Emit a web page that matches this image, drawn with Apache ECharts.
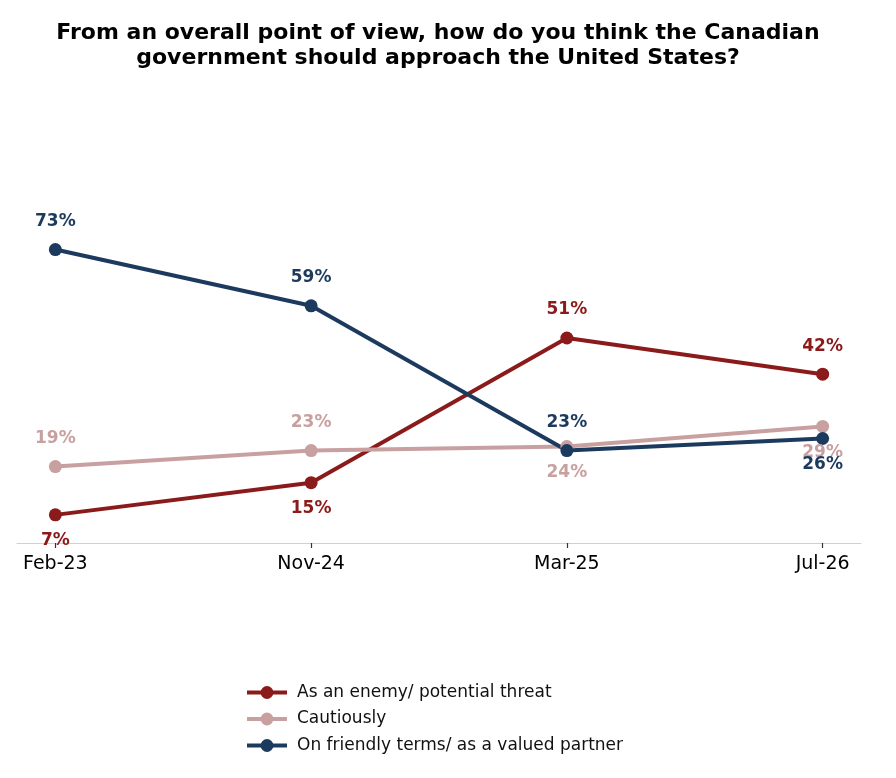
<!DOCTYPE html>
<html>
<head>
<meta charset="utf-8">
<script src="https://cdn.jsdelivr.net/npm/echarts@6/dist/echarts.min.js"></script>
<style>
  html, body { margin: 0; padding: 0; background: #fff; }
  #main { width: 896px; height: 778px; }
</style>
</head>
<body>
<div id="main"></div>
<script>
// survey waves
var waves = ['Feb-23', 'Nov-24', 'Mar-25', 'Jul-26'];

// share of respondents (%)
var enemyValues = [7, 15, 51, 42];
var cautiousValues = [19, 23, 24, 29];
var friendlyValues = [73, 59, 23, 26];

var seriesNames = ['As an enemy/ potential threat', 'Cautiously', 'On friendly terms/ as a valued partner'];

var myChart = echarts.init(document.getElementById('main'));

// label above (1) or below (-1) each point
function buildData(values, sides) {
  var out = [];
  for (var i = 0; i < values.length; i++) {
    out.push({
      value: [i, values[i]],
      label: { offset: [0, sides[i] > 0 ? -28 : 26] }
    });
  }
  return out;
}

function makeSeries(name, values, sides, color) {
  return {
    name: name,
    type: 'line',
    data: buildData(values, sides),
    symbol: 'circle',
    symbolSize: 13,
    lineStyle: { color: color, width: 4 },
    itemStyle: { color: color },
    label: {
      show: true,
      position: 'inside',
      color: color,
      fontFamily: 'DejaVu Sans',
      fontWeight: 'bold',
      fontSize: 17,
      formatter: function (p) { return p.value[1] + '%'; }
    },
    emphasis: { disabled: true },
    animation: false
  };
}

var ticks = [0, 1, 2, 3];

option = {
  backgroundColor: '#fff',
  title: {
    text: 'From an overall point of view, how do you think the Canadian\ngovernment should approach the United States?',
    left: 438,
    textAlign: 'center',
    top: 21,
    padding: 0,
    textStyle: {
      fontFamily: 'DejaVu Sans',
      fontWeight: 'bold',
      fontSize: 22,
      lineHeight: 25,
      color: '#000'
    }
  },
  legend: {
    orient: 'vertical',
    left: 245,
    top: 684,
    padding: 0,
    itemWidth: 40,
    itemHeight: 16,
    itemGap: 9.5,
    lineStyle: { width: 4 },
    textStyle: {
      fontFamily: 'DejaVu Sans',
      fontSize: 17,
      color: '#111',
      padding: [0, 0, 0, 5]
    },
    data: seriesNames
  },
  grid: {
    left: 17,
    right: 35,
    top: 141,
    bottom: 235,
    containLabel: false
  },
  xAxis: {
    type: 'value',
    min: -0.15,
    max: 3.15,
    splitLine: { show: false },
    axisLine: { show: true, lineStyle: { color: '#d0d0d0', width: 1 } },
    axisTick: {
      show: true,
      customValues: ticks,
      length: 5,
      lineStyle: { color: '#333', width: 1.2 }
    },
    axisLabel: {
      customValues: ticks,
      margin: 12,
      fontFamily: 'DejaVu Sans',
      fontSize: 19,
      color: '#000',
      formatter: function (v) { return waves[Math.round(v)]; }
    }
  },
  yAxis: {
    type: 'value',
    min: 0,
    max: 100,
    show: false,
    splitLine: { show: false }
  },
  series: [
    makeSeries(seriesNames[0], enemyValues, [-1, -1, 1, 1], '#8b1a1a'),
    makeSeries(seriesNames[1], cautiousValues, [1, 1, -1, -1], '#c9a0a0'),
    makeSeries(seriesNames[2], friendlyValues, [1, 1, 1, -1], '#1c3a5e')
  ]
};

myChart.setOption(option);
</script>
</body>
</html>
